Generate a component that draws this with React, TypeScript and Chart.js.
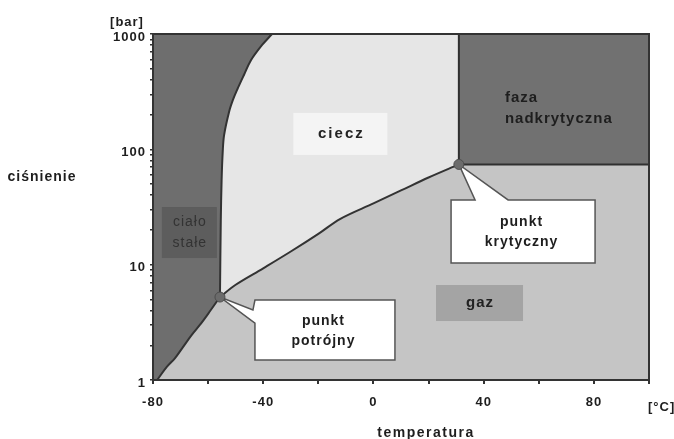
import React, { useEffect, useRef } from 'react';
import { Chart, registerables } from 'chart.js';

Chart.register(...registerables);

// ---- axes ----
const tMin = -80;
const tMax = 100;
const pMin = 1;
const pMax = 1000;
const xTickValues = [-80, -60, -40, -20, 0, 20, 40, 60, 80, 100];
const xTickLabels = [-80, -40, 0, 40, 80];
const yTickValues = [1, 2, 3, 4, 5, 6, 7, 8, 9, 10, 20, 30, 40, 50, 60, 70, 80, 90, 100, 200, 300, 400, 500, 600, 700, 800, 900, 1000];
const yTickLabels = [1, 10, 100, 1000];

// ---- phase boundaries (temperature °C, pressure bar) ----
const sublimationT = [-78.5, -75, -72, -69, -66, -63, -60, -55.7];
const sublimationP = [1.0, 1.3, 1.55, 1.95, 2.45, 3.0, 3.75, 5.24];

const meltingT = [-55.7, -55.4, -55.1, -54.7, -54.2, -52.4, -51.0, -49.5, -47.0, -44.4, -40.4, -36.8];
const meltingP = [5.24, 24, 54, 95, 133, 211, 268, 327, 441, 595, 803, 1000];

const vaporT = [-55.7, -50, -40, -30, -20, -12, 0, 10, 20, 31];
const vaporP = [5.24, 6.7, 9.3, 13, 18.5, 25, 34, 44, 57, 74];

const specialT = [-55.7, 31];
const specialP = [5.24, 74];

// ---- annotations (anchored in data coordinates) ----
const FONT = '"Liberation Sans", Arial, sans-serif';
const regionBoxes = [
  { lines: ['ciecz'], t: -12, p: 136, w: 94, h: 42, fill: '#f4f4f4', size: 15, spacing: 2, color: '#222', bold: true },
  { lines: ['gaz'], t: 38.5, p: 4.65, w: 87, h: 36, fill: '#a4a4a4', size: 15, spacing: 1, color: '#222', bold: true },
  { lines: ['ciało', 'stałe'], t: -66.8, p: 19, w: 55, h: 51, fill: '#5d5d5d', size: 14, spacing: 1, color: '#333', bold: false },
];
const freeTexts = [
  { lines: ['faza', 'nadkrytyczna'], t: 47.7, p: 226, size: 15, spacing: 1, color: '#1e1e1e' },
];
const callouts = [
  { lines: ['punkt', 'potrójny'], t: -17.6, p: 2.71, w: 140, h: 60, tip: 0, side: 'left', base: [10, 23] },
  { lines: ['punkt', 'krytyczny'], t: 54.3, p: 19.4, w: 144, h: 63, tip: 1, side: 'top', base: [24, 57] },
];

const pts = (ts: number[], ps: number[]) => ts.map((t, i) => ({ x: t, y: ps[i] }));

function drawLines(ctx: CanvasRenderingContext2D, lines: string[], x: number, y: number, size: number, spacing: number, color: string, bold: boolean, align: CanvasTextAlign, lh: number) {
  ctx.save();
  ctx.font = `${bold ? 'bold ' : ''}${size}px ${FONT}`;
  (ctx as any).letterSpacing = `${spacing}px`;
  ctx.fillStyle = color;
  ctx.textAlign = align;
  ctx.textBaseline = 'middle';
  const start = y - ((lines.length - 1) * lh) / 2;
  lines.forEach((l, i) => ctx.fillText(l, x + (align === 'center' ? spacing / 2 : 0), start + i * lh));
  ctx.restore();
}

const annotationPlugin = {
  id: 'phaseAnnotations',
  beforeDraw(chart: any) {
    (chart.ctx as any).letterSpacing = '1px';
  },
  beforeDatasetDraw(chart: any, args: any) {
    if (args.index !== 0) return;
    const ctx: CanvasRenderingContext2D = chart.ctx;
    const xs = chart.scales.x;
    const ys = chart.scales.y;
    ctx.save();
    for (const b of regionBoxes) {
      const cx = xs.getPixelForValue(b.t);
      const cy = ys.getPixelForValue(b.p);
      ctx.fillStyle = b.fill;
      ctx.fillRect(cx - b.w / 2, cy - b.h / 2, b.w, b.h);
      drawLines(ctx, b.lines, cx, cy, b.size, b.spacing, b.color, b.bold, 'center', 21);
    }
    for (const f of freeTexts) {
      drawLines(ctx, f.lines, xs.getPixelForValue(f.t), ys.getPixelForValue(f.p), f.size, f.spacing, f.color, true, 'left', 21);
    }
    for (const c of callouts) {
      const cx = xs.getPixelForValue(c.t);
      const cy = ys.getPixelForValue(c.p);
      const L = cx - c.w / 2, R = cx + c.w / 2, T = cy - c.h / 2, B = cy + c.h / 2;
      const tx = xs.getPixelForValue(specialT[c.tip]);
      const ty = ys.getPixelForValue(specialP[c.tip]);
      ctx.beginPath();
      if (c.side === 'left') {
        ctx.moveTo(L, T);
        ctx.lineTo(R, T);
        ctx.lineTo(R, B);
        ctx.lineTo(L, B);
        ctx.lineTo(L, T + c.base[1]);
        ctx.lineTo(tx, ty);
        ctx.lineTo(L - 2, T + c.base[0]);
        ctx.closePath();
      } else {
        ctx.moveTo(L, T);
        ctx.lineTo(L + c.base[0], T);
        ctx.lineTo(tx, ty);
        ctx.lineTo(L + c.base[1], T);
        ctx.lineTo(R, T);
        ctx.lineTo(R, B);
        ctx.lineTo(L, B);
        ctx.closePath();
      }
      ctx.fillStyle = '#ffffff';
      ctx.fill();
      ctx.lineWidth = 1.5;
      ctx.strokeStyle = '#555555';
      ctx.lineJoin = 'miter';
      ctx.stroke();
      drawLines(ctx, c.lines, cx - 2, cy + 1, 14, 1, '#1e1e1e', true, 'center', 20);
    }
    ctx.restore();
  },
  afterDatasetsDraw(chart: any) {
    const { ctx, chartArea } = chart;
    ctx.save();
    ctx.strokeStyle = '#333333';
    ctx.lineWidth = 2;
    ctx.strokeRect(chartArea.left, chartArea.top, chartArea.right - chartArea.left, chartArea.bottom - chartArea.top);
    ctx.restore();
  },
};

export default function App() {
  const ref = useRef<HTMLCanvasElement | null>(null);

  useEffect(() => {
    if (!ref.current) return;
    const sublimation = pts(sublimationT, sublimationP);
    const melting = pts(meltingT, meltingP);
    const vapor = pts(vaporT, vaporP);
    const crit = { x: specialT[1], y: specialP[1] };

    const gasPoly = [{ x: tMin, y: pMin }, { x: tMax, y: pMin }, { x: tMax, y: pMax }, { x: tMin, y: pMax }];
    const solidPoly = [{ x: tMin, y: pMin }, ...sublimation, ...melting.slice(1), { x: tMin, y: pMax }];
    const liquidPoly = [...vapor, { x: crit.x, y: pMax }, ...melting.slice().reverse()];
    const superPoly = [crit, { x: tMax, y: crit.y }, { x: tMax, y: pMax }, { x: crit.x, y: pMax }, crit];

    const tickFont = { family: FONT, size: 13, weight: 'bold' as const };
    const curve = { borderColor: '#333333', borderWidth: 2, fill: false, order: 1, tension: 0.35 };
    const chart = new Chart(ref.current, {
      type: 'line',
      data: {
        datasets: [
          {
            label: 'points',
            data: pts(specialT, specialP),
            showLine: false,
            pointRadius: 5,
            pointBackgroundColor: '#6b6b6b',
            pointBorderColor: '#4d4d4d',
            pointBorderWidth: 1,
            order: 0,
          },
          { label: 'sublimation', data: sublimation, ...curve },
          { label: 'melting', data: melting, ...curve },
          { label: 'vaporization', data: vapor, ...curve },
          { label: 'supercritical', data: superPoly, fill: 'shape', backgroundColor: '#717171', borderColor: '#303030', borderWidth: 2, order: 2 },
          { label: 'liquid', data: liquidPoly, fill: 'shape', backgroundColor: '#e6e6e6', borderColor: 'rgba(0,0,0,0)', borderWidth: 1, order: 3 },
          { label: 'solid', data: solidPoly, fill: 'shape', backgroundColor: '#6e6e6e', borderColor: 'rgba(0,0,0,0)', borderWidth: 1, order: 3 },
          { label: 'gas', data: gasPoly, fill: 'shape', backgroundColor: '#c5c5c5', borderColor: 'rgba(0,0,0,0)', borderWidth: 1, order: 4 },
        ],
      },
      options: {
        animation: false,
        responsive: false,
        devicePixelRatio: 1,
        events: [],
        layout: { padding: { left: 0, right: 25, top: 34, bottom: 0 } },
        elements: { point: { radius: 0 }, line: { tension: 0 } },
        plugins: { legend: { display: false }, tooltip: { enabled: false } },
        scales: {
          x: {
            type: 'linear',
            min: tMin,
            max: tMax,
            afterFit: (s: any) => { s.height = 59; },
            afterBuildTicks: (s: any) => { s.ticks = xTickValues.map((v) => ({ value: v })); },
            ticks: {
              autoSkip: false,
              maxRotation: 0,
              padding: 11,
              color: '#1e1e1e',
              font: tickFont,
              callback: (v: any) => (xTickLabels.includes(Number(v)) ? String(v) : ''),
            },
            grid: { drawOnChartArea: false, drawTicks: true, tickLength: 4, color: '#333333', lineWidth: 2 },
            border: { display: true, color: '#333333', width: 2 },
          },
          y: {
            type: 'logarithmic',
            min: pMin,
            max: pMax,
            afterFit: (s: any) => { s.width = 153; },
            afterBuildTicks: (s: any) => { s.ticks = yTickValues.map((v) => ({ value: v })); },
            ticks: {
              autoSkip: false,
              padding: 4,
              labelOffset: 3,
              color: '#1e1e1e',
              font: tickFont,
              callback: (v: any) => (yTickLabels.includes(Number(v)) ? String(v) : ''),
            },
            grid: { drawOnChartArea: false, drawTicks: true, tickLength: 3, color: '#333333', lineWidth: 1.5 },
            border: { display: true, color: '#333333', width: 2 },
          },
        },
      },
      plugins: [annotationPlugin],
    } as any);
    return () => chart.destroy();
  }, []);

  const txt = (s: string, x: number, y: number, size: number, ls: number, align: 'center' | 'left' = 'center') => (
    <div
      style={{
        position: 'absolute',
        left: x,
        top: y,
        transform: align === 'center' ? 'translate(-50%, -50%)' : 'translate(0, -50%)',
        font: `bold ${size}px ${FONT}`,
        letterSpacing: `${ls}px`,
        color: '#1e1e1e',
        whiteSpace: 'nowrap',
        lineHeight: 1,
      }}
    >
      {s}
    </div>
  );

  return (
    <div style={{ position: 'fixed', left: 0, top: 0, width: 674, height: 439, background: '#ffffff', overflow: 'hidden' }}>
      <canvas ref={ref} width={674} height={439} style={{ display: 'block', width: 674, height: 439 }} />
      {txt('[bar]', 127, 21, 13, 1)}
      {txt('ciśnienie', 42, 176, 14, 1)}
      {txt('temperatura', 426, 432, 14, 1.5)}
      {txt('[°C]', 648, 406, 13, 1, 'left')}
    </div>
  );
}
